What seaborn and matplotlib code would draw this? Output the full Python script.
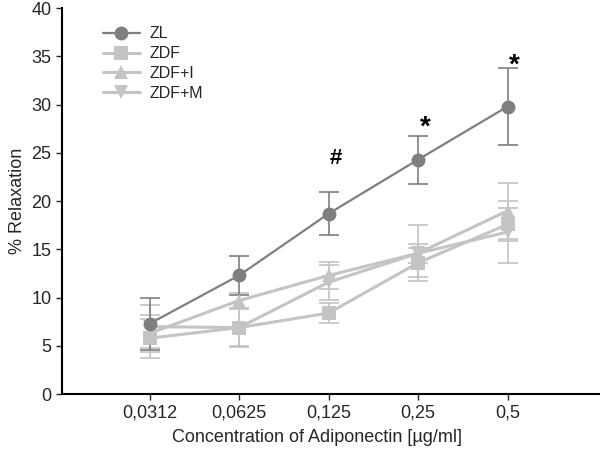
import numpy as np
import pandas as pd
import matplotlib
matplotlib.use("Agg")
import matplotlib.pyplot as plt
import seaborn as sns

# --- DATA ---
concentrations = ["0,0312", "0,0625", "0,125", "0,25", "0,5"]
groups = ["ZL", "ZDF", "ZDF+I", "ZDF+M"]

zl_mean = [7.3, 12.3, 18.7, 24.3, 29.8]
zl_err = [2.7, 2.0, 2.2, 2.5, 4.0]
zdf_mean = [5.8, 6.9, 8.4, 13.6, 17.6]
zdf_err = [2.0, 2.0, 1.0, 1.5, 1.7]
zdfi_mean = [6.3, 9.7, 12.3, 14.6, 19.0]
zdfi_err = [1.9, 0.8, 1.4, 1.0, 2.9]
zdfm_mean = [7.0, 6.9, 11.6, 14.6, 16.8]
zdfm_err = [2.2, 1.9, 1.8, 2.9, 3.2]

annot_labels = ["#", "*", "*"]
annot_idx = [2, 3, 4]
annot_y = [24.4, 27.6, 34.0]

means = [zl_mean, zdf_mean, zdfi_mean, zdfm_mean]
errs = [zl_err, zdf_err, zdfi_err, zdfm_err]

rows = []
for g, m, e in zip(groups, means, errs):
    for i, c in enumerate(concentrations):
        rows.append({"group": g, "pos": i, "conc": c, "mean": m[i], "err": e[i]})
df = pd.DataFrame(rows)

# --- STYLE ---
sns.set_theme(style="ticks")
plt.rcParams['font.family'] = ['Liberation Sans', 'DejaVu Sans']

colors = {"ZL": "#7f7f7f", "ZDF": "#c4c4c4", "ZDF+I": "#c4c4c4", "ZDF+M": "#c4c4c4"}
markers = {"ZL": "o", "ZDF": "s", "ZDF+I": "^", "ZDF+M": "v"}
widths = {"ZL": 1.6, "ZDF": 2.2, "ZDF+I": 2.2, "ZDF+M": 2.2}

fig = plt.figure(figsize=(6, 4.5), dpi=100)
ax = fig.add_axes([0.103, 0.124, 0.895, 0.858])

# error bars first so the markers sit on top
for g in groups[::-1]:
    sub = df[df["group"] == g]
    ax.errorbar(sub["pos"], sub["mean"], yerr=sub["err"], fmt="none",
                ecolor=colors[g], elinewidth=1.2, capsize=7, capthick=1.2, zorder=1)

for g in groups[::-1]:
    sub = df[df["group"] == g]
    sns.lineplot(data=sub, x="pos", y="mean", ax=ax, color=colors[g],
                 marker=markers[g], markersize=10, markeredgewidth=0,
                 linewidth=widths[g], label=g, zorder=3 if g == "ZL" else 2)

for lab, i, y in zip(annot_labels, annot_idx, annot_y):
    ax.text(i + 0.08, y, lab, fontsize=20 if lab == "*" else 16, fontweight="bold",
            ha="center", va="center", color="black")

ax.set_xlim(-0.98, 5.02)
ax.set_ylim(0, 40)
ax.set_xticks(range(len(concentrations)))
ax.set_xticklabels(concentrations, fontsize=13)
ax.set_yticks(np.arange(0, 41, 5))
ax.tick_params(axis="y", labelsize=13, length=4, width=1, direction="out")
ax.tick_params(axis="x", length=4, width=1, direction="out")
ax.set_xlabel("Concentration of Adiponectin [µg/ml]", fontsize=13)
ax.set_ylabel("% Relaxation", fontsize=13)
ax.xaxis.set_label_coords(0.475, -0.09)
sns.despine(ax=ax)
for s in ["left", "bottom"]:
    ax.spines[s].set_linewidth(1.5)
    ax.spines[s].set_color("black")

handles, labels = ax.get_legend_handles_labels()
order = [labels.index(g) for g in groups]
ax.legend([handles[i] for i in order], [labels[i] for i in order],
          loc="upper left", bbox_to_anchor=(0.05, 0.99), frameon=False,
          fontsize=11.5, handlelength=2.3, handletextpad=0.6, labelspacing=0.3)

fig.savefig("out.png", dpi=100)
